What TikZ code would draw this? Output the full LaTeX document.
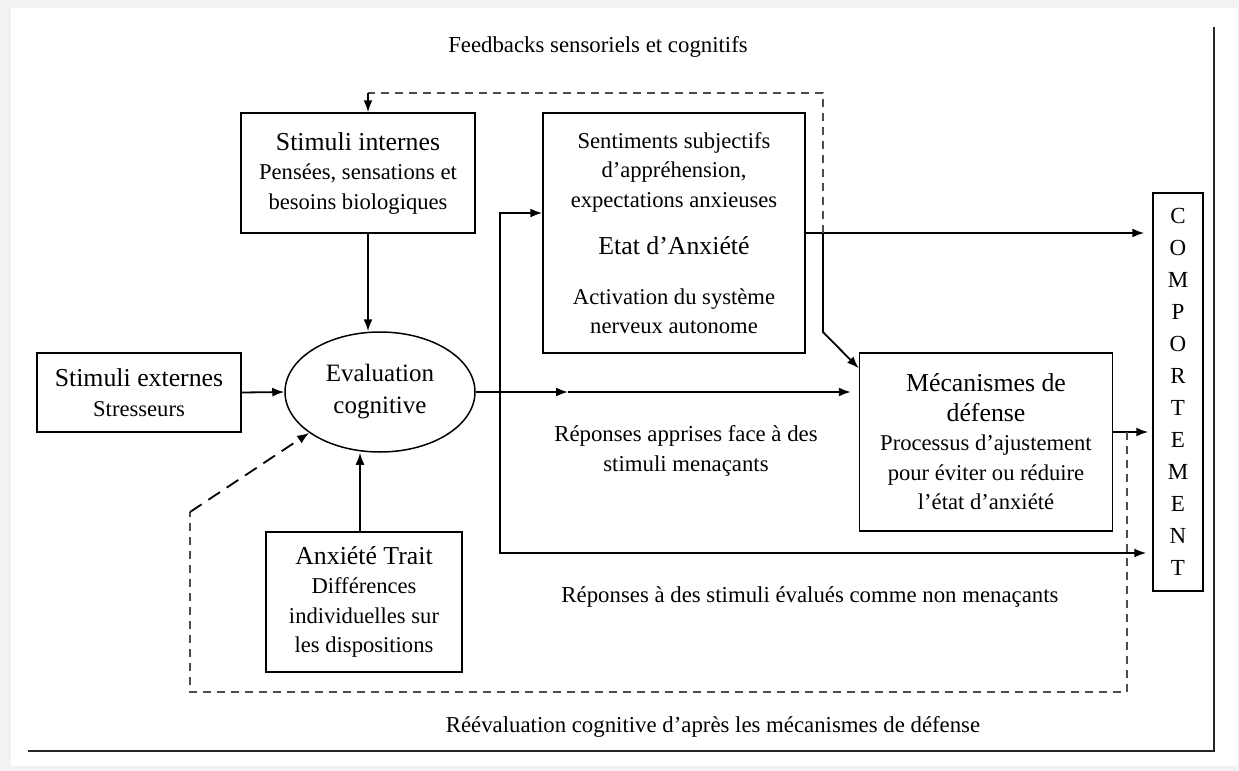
\documentclass[tikz,border=0pt]{standalone}
\usepackage{fontspec}
\setmainfont{Liberation Serif}
\usetikzlibrary{shapes.geometric, arrows.meta}
\newcommand\entete[1]{{\fontsize{12.9}{14.75}\selectfont #1}}

\begin{document}
\begin{tikzpicture}[x=0.5pt, y=-0.5pt,
  bloc/.style={draw, line width=0.75pt, align=center, inner sep=0pt,
    font=\fontsize{11.3}{14.75}\selectfont},
  lbl/.style={align=center, font=\fontsize{11.4}{14.75}\selectfont},
  arr/.style={-{Latex[length=6pt,width=4.5pt]}, line width=0.9pt},
  fb/.style={dash pattern=on 4pt off 3pt, gray!60!black, line width=0.6pt}]
\useasboundingbox (0,0) rectangle (1239,771);
\fill[gray!10] (0,0) rectangle (1239,771);
\fill[white] (11,8) rectangle (1237,766);
\draw[line width=0.9pt, gray!30!black] (28,751) -- (1214,751) -- (1214,27);

\node[lbl] (feedbk) at (598,47) {Feedbacks sensoriels et cognitifs};
\node[bloc, minimum width=117pt, minimum height=60pt] (internes) at (358,173)
  {\entete{Stimuli internes}\\Pensées, sensations et\\besoins biologiques};
\node[bloc, minimum width=131pt, minimum height=120pt] (sentim) at (674,233)
  {Sentiments subjectifs\\d'appréhension,\\expectations anxieuses\\[9pt]\entete{Etat d'Anxiété}\\[10pt]Activation du système\\nerveux autonome};
\node[bloc, minimum width=25pt, minimum height=199pt, font=\fontsize{11.5}{16}\selectfont] (comport) at (1178,392)
  {C\\O\\M\\P\\O\\R\\T\\E\\M\\E\\N\\T};
\node[bloc, minimum width=102pt, minimum height=39.5pt] (externes) at (139,392.5)
  {\entete{Stimuli externes}\\Stresseurs};
\node[bloc, ellipse, minimum width=95pt, minimum height=60pt, font=\fontsize{12.5}{16}\selectfont] (evalc) at (380,392)
  {Evaluation\\cognitive};
\node[bloc, minimum width=98pt, minimum height=70pt] (trait) at (364,602)
  {\entete{Anxiété Trait}\\Différences\\individuelles sur\\les dispositions};
\node[bloc, minimum width=126.5pt, minimum height=89pt] (mecan) at (986,442)
  {\entete{Mécanismes de}\\\entete{défense}\\Processus d'ajustement\\pour éviter ou réduire\\l'état d'anxiété};
\node[lbl] (apprises) at (686,451) {Réponses apprises face à des\\stimuli menaçants};
\node[lbl] (nonmen) at (810,597) {Réponses à des stimuli évalués comme non menaçants};
\node[lbl] (reeval) at (713,727) {Réévaluation cognitive d'après les mécanismes de défense};

\coordinate (split) at (500,392);
\coordinate (midtip) at (568,392);
\coordinate (low) at (500,553);
\coordinate (fbk) at (823,233);
\coordinate (bend) at (823,332);
\coordinate (fbhaut) at (823,93);
\coordinate (fbgauche) at (368,93);
\coordinate (reev) at (1127,432);
\coordinate (reevbas) at (1127,692);
\coordinate (reevgauche) at (190,692);
\coordinate (reevcoin) at (190,512);

% entrees de l'evaluation
\draw[arr] ([xshift=5pt]internes.south) -- ([xshift=5pt]internes.south |- evalc.north);
\draw[arr] (externes.east) -- (evalc.west);
\draw[arr] ([xshift=-2pt]trait.north) -- ([xshift=-2pt]trait.north |- evalc.south);

% sorties
\draw[arr] (evalc.east) -- (midtip);
\draw[arr, shorten >=4pt] (midtip) -- (midtip -| mecan.west);
\draw[arr] (split) |- ([yshift=10pt]sentim.west);
\draw[arr, shorten >=3pt] (split) -- (low) -- (low -| comport.west);
\draw[arr, shorten >=4pt] (sentim.east) -- (sentim.east -| comport.west);
\draw[arr] (fbk) -- (bend) -- ([yshift=-8pt]mecan.north west);
\draw[arr, shorten >=2pt] ([yshift=5pt]mecan.east) -- ([yshift=5pt]mecan.east -| comport.west);

% boucles
\draw[fb] (fbk) -- (fbhaut) -- (fbgauche);
\draw[arr] (fbgauche) -- ([xshift=5pt]internes.north);
\draw[fb] (reev) -- (reevbas) -- (reevgauche) -- (reevcoin);
\draw[arr, dash pattern=on 7pt off 4pt] (reevcoin) -- (evalc.210);

\end{tikzpicture}
\end{document}
